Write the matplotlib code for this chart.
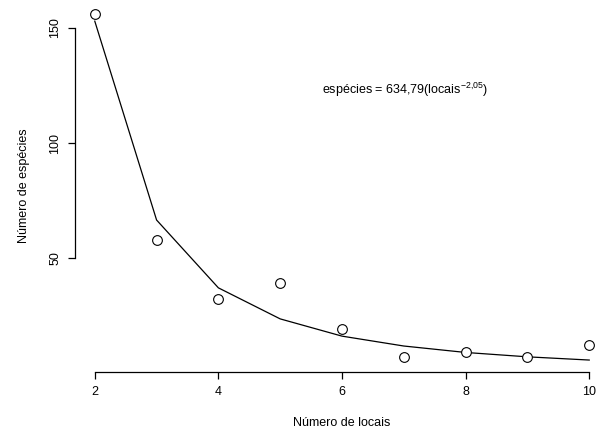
import matplotlib.pyplot as plt

plt.rcParams['font.family'] = ['Liberation Sans', 'DejaVu Sans']
plt.rcParams['mathtext.default'] = 'regular'

# observed number of species per number of sites
locais = [2, 3, 4, 5, 6, 7, 8, 9, 10]
especies = [156, 58, 32, 39, 19, 7, 9, 7, 12]
# fitted curve
ajuste = [153, 66.5, 37, 23.5, 16, 11.7, 8.9, 7.0, 5.6]

xticks = [2, 4, 6, 8, 10]
yticks = [50, 100, 150]


def main():
    fig = plt.figure(figsize=(6.02, 4.32), dpi=100)
    ax = fig.add_axes([75 / 602, 60 / 432, 534 / 602, 372 / 432])

    ax.plot(locais, ajuste, color='black', linewidth=0.9)
    ax.plot(locais, especies, linestyle='none', marker='o', markersize=7,
            markerfacecolor='white', markeredgecolor='black', markeredgewidth=0.8)

    ax.set_xlim(1.68, 10.32)
    ax.set_ylim(0.4, 162.2)

    for side in ['top', 'right']:
        ax.spines[side].set_visible(False)
    ax.spines['left'].set_bounds(50, 150)
    ax.spines['bottom'].set_bounds(2, 10)
    for side in ['left', 'bottom']:
        ax.spines[side].set_linewidth(0.9)

    ax.set_xticks(xticks)
    ax.set_yticks(yticks)
    ax.tick_params(direction='out', length=5, width=0.9, labelsize=9, pad=5)
    for lab in ax.get_yticklabels():
        lab.set_rotation(90)
        lab.set_va('center')

    ax.set_xlabel('Número de locais', fontsize=9, labelpad=14)
    ax.set_ylabel('Número de espécies', fontsize=9, labelpad=14)

    ax.text(5.67, 123, 'espécies = 634,79(locais$^{-2{,}05}$)', fontsize=9,
            ha='left', va='center')

    fig.savefig('out.png', dpi=100)


if __name__ == "__main__":
    main()
